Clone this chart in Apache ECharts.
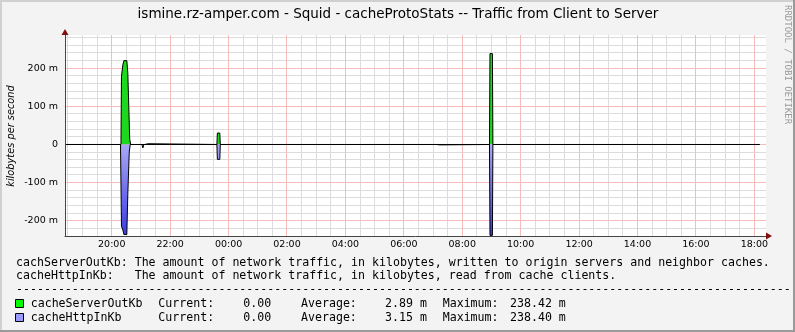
<!DOCTYPE html>
<html><head><meta charset="utf-8">
<script src="https://cdn.jsdelivr.net/npm/echarts@6/dist/echarts.min.js"></script>
<style>html,body{margin:0;padding:0;background:#f3f3f3;}#c{width:795px;height:332px;}</style>
</head><body><div id="c"></div>
<script>
// ---- text ----
const titleText = "ismine.rz-amper.com - Squid - cacheProtoStats -- Traffic from Client to Server";
const yAxisTitle = "kilobytes per second";
const watermark = "RRDTOOL / TOBI OETIKER";
const descLines = [
  "cachServerOutKb: The amount of network traffic, in kilobytes, written to origin servers and neighbor caches.",
  "cacheHttpInKb:   The amount of network traffic, in kilobytes, read from cache clients."
];
const legendNames = ["cacheServerOutKb", "cacheHttpInKb"];
const legendColors = ["#00ff00", "#9999ff"];
const statLabels = ["Current:", "Average:", "Maximum:"];
const statValues = [["0.00", "2.89 m", "238.42 m"], ["0.00", "3.15 m", "238.40 m"]];
// ---- ticks ----
const xTickLabels = ["20:00","22:00","00:00","02:00","04:00","06:00","08:00","10:00","12:00","14:00","16:00","18:00"];
const xTickValues = [20,22,24,26,28,30,32,34,36,38,40,42];
const yTickLabels = ["-200 m","-100 m","0","100 m","200 m"];
const yTickValues = [-200,-100,0,100,200];
// ---- data (values in milli-kilobytes/s) ----
const outTimes  = ["18:24","19:18","19:20","19:22","19:47","19:49","19:51","20:19","20:20","20:23","20:25","20:31","20:33","20:35","20:37","20:39","20:40","20:41","20:43","21:08","21:11","21:14","21:16","23:36","23:37","23:42","23:43","07:08","07:10","07:12","08:56","08:57","09:02","09:03","18:11"];
const outValues = [0,0,3,0,0,2,0,0,179,210,220,220,188,100,13,0,0,2,0,0,3,2,0,0,30,30,0,0,1,0,0,238.42,238.42,0,0];
const inTimes   = ["18:24","19:18","19:20","19:22","19:47","19:49","19:51","20:18","20:20","20:23","20:25","20:31","20:33","20:36","20:38","20:40","20:41","20:43","21:02","21:04","21:06","21:12","21:13","21:15","23:36","23:37","23:42","23:43","07:08","07:10","07:13","07:14","08:56","08:57","09:02","09:03","14:49","14:50","14:52","18:11"];
const inValues  = [0,0,-3,0,0,-2,0,0,-214,-225,-236,-236,-131,-20,0,0,-2,0,0,-9,0,0,-1,0,0,-39,-39,0,0,-3,-1,0,0,-238.40,-238.40,0,0,-2,0,0];

const X_MIN = 18.4, X_MAX = 42.4, Y_MIN = -240, Y_MAX = 287.2;
function toHours(s){ const p = s.split(':').map(Number); let v = p[0] + p[1]/60; if (v < X_MIN) v += 24; return v; }
const outData = outTimes.map((t,i)=>[toHours(t), outValues[i]]);
const inData  = inTimes.map((t,i)=>[toHours(t), inValues[i]]);

const G = {left:65, top:35, width:701, height:201};
const axisFont = {color:'#000', fontFamily:'DejaVu Sans', fontSize:9.5};
const MONO = '11.6px "DejaVu Sans Mono"';

const chart = echarts.init(document.getElementById('c'), null, {renderer:'canvas', width:795, height:332});
chart.setOption({
  animation:false,
  backgroundColor:'#f3f3f3',
  grid:{left:G.left, top:G.top, width:G.width, height:G.height, show:false, containLabel:false},
  xAxis:{type:'value', min:X_MIN, max:X_MAX, position:'bottom', z:5,
     axisLine:{show:true, onZero:false, lineStyle:{color:'#444', width:1}},
     axisTick:{show:false},
     axisLabel:Object.assign({customValues:xTickValues, margin:4,
       formatter:v=>xTickLabels[xTickValues.indexOf(Math.round(v))]||''}, axisFont),
     splitLine:{show:false}},
  yAxis:{type:'value', min:Y_MIN, max:Y_MAX, position:'left', z:5,
     axisLine:{show:true, onZero:false, lineStyle:{color:'#444', width:1}},
     axisTick:{show:false},
     axisLabel:Object.assign({customValues:yTickValues, margin:7,
       formatter:v=>yTickLabels[yTickValues.indexOf(Math.round(v))]||''}, axisFont),
     splitLine:{show:false}},
  series:[
    {type:'line', name:legendNames[0], data:outData, symbol:'none', z:3,
     lineStyle:{color:'#000', width:1}, areaStyle:{color:'#1ed81e', opacity:1}},
    {type:'line', name:legendNames[1], data:inData, symbol:'none', z:3,
     lineStyle:{color:'#000', width:1},
     areaStyle:{opacity:1, color:new echarts.graphic.LinearGradient(0,0,0,1,[{offset:0,color:'#a8a8f6'},{offset:1,color:'#3a3ae2'}])}}
  ]
});

// plot background + grid lines placed through the axes' scales, below the data
const MINOR = '#dcdcdc', MAJOR = '#f6bcbc';
const gridEls = [{type:'rect', z:0, silent:true, shape:{x:G.left, y:G.top, width:G.width, height:G.height}, style:{fill:'#ffffff'}}];
function vline(v, color){ const p = Math.floor(chart.convertToPixel({xAxisIndex:0}, v)) + 0.5;
  gridEls.push({type:'line', z:1, silent:true, shape:{x1:p, y1:G.top, x2:p, y2:G.top+G.height}, style:{stroke:color, lineWidth:1}}); }
function hline(v, color){ const p = Math.floor(chart.convertToPixel({yAxisIndex:0}, v)) + 0.5;
  gridEls.push({type:'line', z:1, silent:true, shape:{x1:G.left, y1:p, x2:G.left+G.width, y2:p}, style:{stroke:color, lineWidth:1}}); }
for (let k = 37; k <= 84; k++) { if (k % 4 !== 0) vline(k/2, MINOR); }
for (let v = -220; v <= 280; v += 20) { if (v % 100 !== 0) hline(v, MINOR); }
xTickValues.forEach(v => vline(v, MAJOR));
yTickValues.forEach(v => hline(v, MAJOR));

// legend rows
const statX = [158.3, 243.3, 301, 385, 442.7, 510];
const legendEls = [];
legendNames.forEach((name, r) => {
  const y = 303.5 + r*14;
  legendEls.push({type:'rect', shape:{x:15.5, y:y-4, width:8, height:8}, style:{fill:legendColors[r], stroke:'#000', lineWidth:1}});
  legendEls.push({type:'text', x:30.7, y:y, style:{text:name, font:MONO, fill:'#000', verticalAlign:'middle'}});
  for (let i = 0; i < 3; i++) {
    legendEls.push({type:'text', x:statX[2*i], y:y, style:{text:statLabels[i], font:MONO, fill:'#000', verticalAlign:'middle'}});
    legendEls.push({type:'text', x:statX[2*i+1], y:y, style:{text:statValues[r][i], font:MONO, fill:'#000', verticalAlign:'middle'}});
  }
});

chart.setOption({graphic:gridEls.concat([
    {type:'rect', shape:{x:0,y:0,width:795,height:2}, style:{fill:'#d0d0d0'}, silent:true},
    {type:'rect', shape:{x:0,y:0,width:2,height:332}, style:{fill:'#d0d0d0'}, silent:true},
    {type:'rect', shape:{x:793,y:0,width:2,height:332}, style:{fill:'#9a9a9a'}, silent:true},
    {type:'rect', shape:{x:0,y:330,width:795,height:2}, style:{fill:'#9a9a9a'}, silent:true},
    {type:'polygon', z:10, shape:{points:[[61.5,35],[68.5,35],[65,29]]}, style:{fill:'#7f1010'}},
    {type:'polygon', z:10, shape:{points:[[766,232.5],[766,239.5],[772,236]]}, style:{fill:'#7f1010'}},
    {type:'text', x:398, y:14, style:{text:titleText, font:'13.5px "DejaVu Sans"', fill:'#000', align:'center', verticalAlign:'middle'}},
    {type:'text', x:11, y:136, rotation:Math.PI/2, style:{text:yAxisTitle, font:'italic 9.8px "DejaVu Sans"', fill:'#000', align:'center', verticalAlign:'middle'}},
    {type:'text', x:787, y:5, rotation:-Math.PI/2, style:{text:watermark, font:'9px "DejaVu Sans Mono"', fill:'#9a9a9a', align:'left', verticalAlign:'middle'}},
    {type:'text', x:16, y:262.5, style:{text:descLines[0], font:MONO, fill:'#000', verticalAlign:'middle'}},
    {type:'text', x:16, y:276, style:{text:descLines[1], font:MONO, fill:'#000', verticalAlign:'middle'}},
    {type:'text', x:16, y:290, style:{text:'-'.repeat(111), font:MONO, fill:'#000', verticalAlign:'middle'}}
  ], legendEls)});
</script></body></html>
